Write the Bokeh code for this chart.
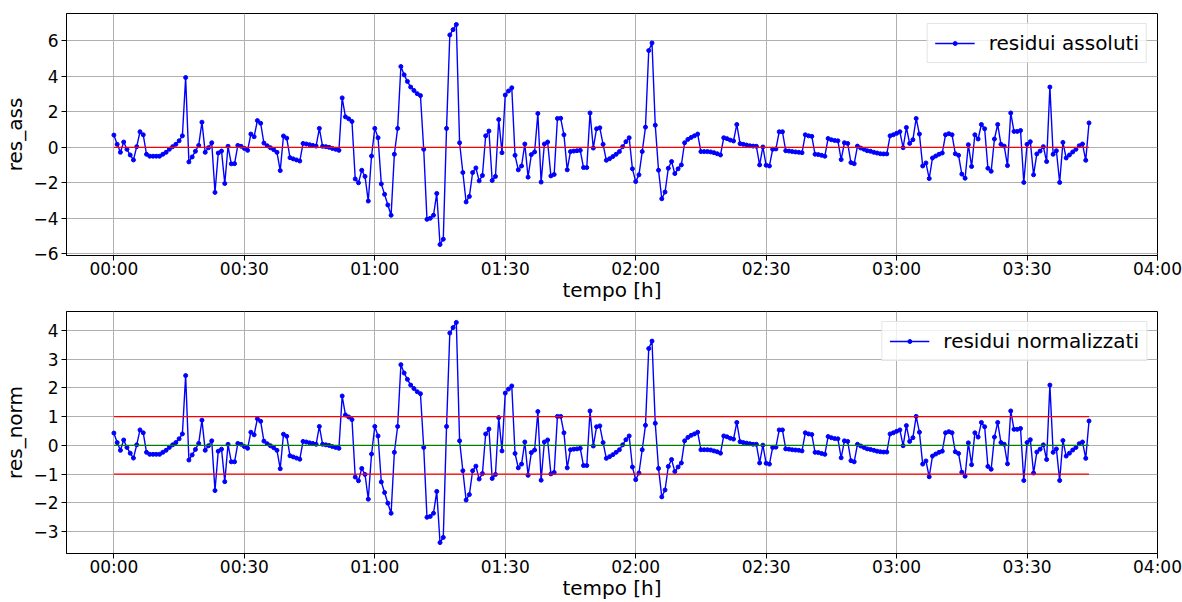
from bokeh.plotting import figure
from bokeh.layouts import column
from bokeh.models import FixedTicker, Range1d
from bokeh.embed import file_html
from bokeh.resources import INLINE

# ---------------- data ----------------
sample_seconds = 45  # one residual every 45 s

res_ass = [
    0.69, 0.17, -0.28, 0.30, -0.11, -0.43, -0.71, 0.04, 0.88, 0.71,
    -0.39, -0.50, -0.50, -0.50, -0.50, -0.39, -0.28, -0.11, 0.04, 0.17,
    0.37, 0.65, 3.94, -0.82, -0.54, -0.22, 0.11, 1.42, -0.28, -0.02,
    0.26, -2.54, -0.32, -0.21, -2.04, 0.06, -0.93, -0.92, 0.11, 0.06,
    -0.06, -0.17, 0.75, 0.60, 1.51, 1.36, 0.24, 0.09, -0.02, -0.13,
    -0.28, -1.31, 0.64, 0.52, -0.58, -0.65, -0.71, -0.77, 0.22, 0.19,
    0.15, 0.11, 0.07, 1.07, 0.06, 0.04, 0.00, -0.06, -0.11, -0.17,
    2.79, 1.72, 1.61, 1.46, -1.78, -2.00, -1.29, -1.64, -3.03, -0.49,
    1.07, 0.54, -2.06, -2.65, -3.25, -3.83, -0.39, 1.07, 4.56, 4.09,
    3.72, 3.40, 3.21, 3.03, 2.92, -0.11, -4.06, -4.00, -3.83, -2.60,
    -5.48, -5.18, 1.07, 6.34, 6.64, 6.93, 0.26, -1.42, -3.08, -2.77,
    -1.42, -1.16, -1.89, -1.59, 0.65, 0.92, -1.87, -1.64, 1.57, -0.30,
    2.95, 3.18, 3.36, -0.45, -1.27, -1.05, 0.19, -1.68, -0.41, -0.26,
    1.91, -1.96, 0.19, 0.30, -1.61, -1.53, 1.63, 1.64, 0.71, -1.27,
    -0.24, -0.21, -0.19, -0.17, -1.14, -1.14, 1.94, -0.04, 1.05, 1.10,
    0.17, -0.73, -0.64, -0.52, -0.39, -0.24, 0.04, 0.32, 0.54, -1.21,
    -1.93, -1.55, -0.24, 1.14, 5.46, 5.89, 1.25, -1.29, -2.90, -2.52,
    -1.18, -0.80, -1.48, -1.21, -0.99, 0.26, 0.45, 0.56, 0.65, 0.75,
    -0.24, -0.24, -0.24, -0.26, -0.30, -0.36, -0.43, 0.54, 0.49, 0.41,
    0.36, 1.29, 0.21, 0.17, 0.13, 0.09, 0.07, 0.06, -0.99, 0.02,
    -1.01, -1.05, -0.11, -0.09, 0.88, 0.88, -0.19, -0.21, -0.24, -0.26,
    -0.28, -0.30, 0.71, 0.65, 0.62, -0.39, -0.41, -0.45, -0.50, 0.50,
    0.43, 0.39, 0.37, -0.69, 0.26, 0.22, -0.86, -0.92, 0.07, -0.04,
    -0.11, -0.19, -0.22, -0.28, -0.32, -0.36, -0.37, -0.37, 0.65, 0.71,
    0.79, 0.88, -0.02, 1.12, 0.22, 0.43, 1.63, 0.75, -1.05, -0.88,
    -1.76, -0.60, -0.49, -0.39, -0.32, 0.71, 0.77, 0.71, -0.36, -0.45,
    -1.51, -1.74, 0.15, -1.08, 0.71, 0.47, 1.29, 1.05, -1.18, -1.35,
    0.47, 1.29, 0.17, 0.07, -1.03, 1.94, 0.90, 0.90, 0.95, -1.98,
    0.17, 0.32, -1.55, -0.37, -0.21, 0.04, -0.80, 3.40, -0.39, -0.19,
    -1.98, 0.28, -0.60, -0.43, -0.26, -0.11, 0.09, 0.19, -0.73, 1.38,
]

res_norm = [
    0.43, 0.10, -0.17, 0.19, -0.07, -0.27, -0.44, 0.02, 0.54, 0.44,
    -0.24, -0.31, -0.31, -0.31, -0.31, -0.24, -0.17, -0.07, 0.02, 0.10,
    0.23, 0.40, 2.43, -0.51, -0.33, -0.14, 0.07, 0.88, -0.17, -0.01,
    0.16, -1.57, -0.20, -0.13, -1.26, 0.04, -0.57, -0.57, 0.07, 0.04,
    -0.04, -0.10, 0.46, 0.37, 0.93, 0.84, 0.15, 0.06, -0.01, -0.08,
    -0.17, -0.81, 0.39, 0.32, -0.36, -0.40, -0.44, -0.48, 0.14, 0.12,
    0.09, 0.07, 0.04, 0.66, 0.04, 0.02, 0.00, -0.04, -0.07, -0.10,
    1.72, 1.06, 0.99, 0.90, -1.10, -1.23, -0.80, -1.01, -1.87, -0.30,
    0.66, 0.33, -1.27, -1.64, -2.01, -2.36, -0.24, 0.66, 2.81, 2.52,
    2.30, 2.10, 1.98, 1.87, 1.80, -0.07, -2.50, -2.47, -2.36, -1.60,
    -3.38, -3.20, 0.66, 3.91, 4.10, 4.28, 0.16, -0.88, -1.90, -1.71,
    -0.88, -0.72, -1.17, -0.98, 0.40, 0.57, -1.15, -1.01, 0.97, -0.19,
    1.82, 1.96, 2.07, -0.28, -0.78, -0.65, 0.12, -1.04, -0.25, -0.16,
    1.18, -1.21, 0.12, 0.19, -0.99, -0.94, 1.01, 1.01, 0.44, -0.78,
    -0.15, -0.13, -0.12, -0.10, -0.70, -0.70, 1.20, -0.02, 0.65, 0.68,
    0.10, -0.45, -0.39, -0.32, -0.24, -0.15, 0.02, 0.20, 0.33, -0.75,
    -1.19, -0.96, -0.15, 0.70, 3.37, 3.63, 0.77, -0.80, -1.79, -1.55,
    -0.73, -0.49, -0.91, -0.75, -0.61, 0.16, 0.28, 0.35, 0.40, 0.46,
    -0.15, -0.15, -0.15, -0.16, -0.19, -0.22, -0.27, 0.33, 0.30, 0.25,
    0.22, 0.80, 0.13, 0.10, 0.08, 0.06, 0.04, 0.04, -0.61, 0.01,
    -0.62, -0.65, -0.07, -0.06, 0.54, 0.54, -0.12, -0.13, -0.15, -0.16,
    -0.17, -0.19, 0.44, 0.40, 0.38, -0.24, -0.25, -0.28, -0.31, 0.31,
    0.27, 0.24, 0.23, -0.43, 0.16, 0.14, -0.53, -0.57, 0.04, -0.02,
    -0.07, -0.12, -0.14, -0.17, -0.20, -0.22, -0.23, -0.23, 0.40, 0.44,
    0.49, 0.54, -0.01, 0.69, 0.14, 0.27, 1.01, 0.46, -0.65, -0.54,
    -1.09, -0.37, -0.30, -0.24, -0.20, 0.44, 0.48, 0.44, -0.22, -0.28,
    -0.93, -1.07, 0.09, -0.67, 0.44, 0.29, 0.80, 0.65, -0.73, -0.83,
    0.29, 0.80, 0.10, 0.04, -0.64, 1.20, 0.56, 0.56, 0.59, -1.22,
    0.10, 0.20, -0.96, -0.23, -0.13, 0.02, -0.49, 2.10, -0.24, -0.12,
    -1.22, 0.17, -0.37, -0.27, -0.16, -0.07, 0.06, 0.12, -0.45, 0.85,
]

tempo_min = [i * sample_seconds / 60.0 for i in range(len(res_ass))]

x_ticks = [0, 30, 60, 90, 120, 150, 180, 210, 240]
x_tick_labels = ["00:00", "00:30", "01:00", "01:30", "02:00",
                 "02:30", "03:00", "03:30", "04:00"]
x_title = "tempo [h]"
y_ticks_ass = [-6, -4, -2, 0, 2, 4, 6]
y_ticks_norm = [-3, -2, -1, 0, 1, 2, 3, 4]
zero_level = [0]
norm_limits = [-1, 1]

FONT = "DejaVu Sans"
W = 1182
X_LO, X_HI = -10.9, 240


def minus(v):
    return ("\u2212" + str(abs(v))) if v < 0 else str(v)


def style(p, yticks, ylabel):
    p.xaxis.ticker = FixedTicker(ticks=x_ticks)
    p.xaxis.major_label_overrides = {t: l for t, l in zip(x_ticks, x_tick_labels)}
    p.yaxis.ticker = FixedTicker(ticks=yticks)
    p.yaxis.major_label_overrides = {t: minus(t) for t in yticks}
    p.xaxis.axis_label = x_title
    p.yaxis.axis_label = ylabel
    for ax in (p.xaxis[0], p.yaxis[0]):
        ax.axis_label_text_font = FONT
        ax.axis_label_text_font_size = "20px"
        ax.axis_label_text_font_style = "normal"
        ax.axis_label_text_color = "black"
        ax.major_label_text_font = FONT
        ax.major_label_text_font_size = "17px"
        ax.major_label_text_color = "black"
        ax.axis_line_color = "black"
        ax.major_tick_line_color = "black"
        ax.major_tick_out = 5
        ax.major_tick_in = 0
        ax.minor_tick_line_color = None
    p.xaxis.major_label_standoff = -2
    p.xaxis.axis_label_standoff = -4
    p.yaxis.major_label_standoff = 3
    p.yaxis.axis_label_standoff = 3
    for g in (p.xgrid[0], p.ygrid[0]):
        g.grid_line_color = "#b0b0b0"
        g.grid_line_width = 1
    p.outline_line_color = "black"
    p.outline_line_width = 1
    p.background_fill_color = "white"
    p.border_fill_color = "white"


def legend_style(p):
    lg = p.legend[0]
    lg.location = "top_right"
    lg.label_text_font = FONT
    lg.label_text_font_size = "20px"
    lg.label_text_color = "black"
    lg.glyph_width = 40
    lg.glyph_height = 10
    lg.label_standoff = 14
    lg.padding = 7
    lg.margin = 10
    lg.border_line_color = "#cccccc"
    lg.border_line_width = 1
    lg.background_fill_alpha = 0.8


# ---------------- top: absolute residuals ----------------
p1 = figure(width=W, height=304, output_backend="svg", toolbar_location=None,
            x_range=Range1d(X_LO, X_HI), y_range=Range1d(-6.1, 7.55),
            min_border_left=66, min_border_right=25, min_border_top=13,
            min_border_bottom=49)
p1.line(tempo_min, res_ass, line_color="blue", line_width=1.4,
        legend_label="residui assoluti")
p1.scatter(tempo_min, res_ass, size=4, fill_color="blue", line_color="blue",
           legend_label="residui assoluti")
for lvl in zero_level:
    p1.line([tempo_min[0], tempo_min[-1]], [lvl, lvl], line_color="red", line_width=1.2)
style(p1, y_ticks_ass, "res_ass")
legend_style(p1)

# ---------------- bottom: normalised residuals ----------------
p2 = figure(width=W, height=298, output_backend="svg", toolbar_location=None,
            x_range=Range1d(X_LO, X_HI), y_range=Range1d(-3.76, 4.66),
            min_border_left=66, min_border_right=25, min_border_top=7,
            min_border_bottom=49)
p2.line(tempo_min, res_norm, line_color="blue", line_width=1.4,
        legend_label="residui normalizzati")
p2.scatter(tempo_min, res_norm, size=4, fill_color="blue", line_color="blue",
           legend_label="residui normalizzati")
for lvl in norm_limits:
    p2.line([tempo_min[0], tempo_min[-1]], [lvl, lvl], line_color="red", line_width=1.2)
for lvl in zero_level:
    p2.line([tempo_min[0], tempo_min[-1]], [lvl, lvl], line_color="green", line_width=1.2)
style(p2, y_ticks_norm, "res_norm")
legend_style(p2)

layout = column(p1, p2, spacing=0)
open("out.html", "w").write(file_html(layout, INLINE))
